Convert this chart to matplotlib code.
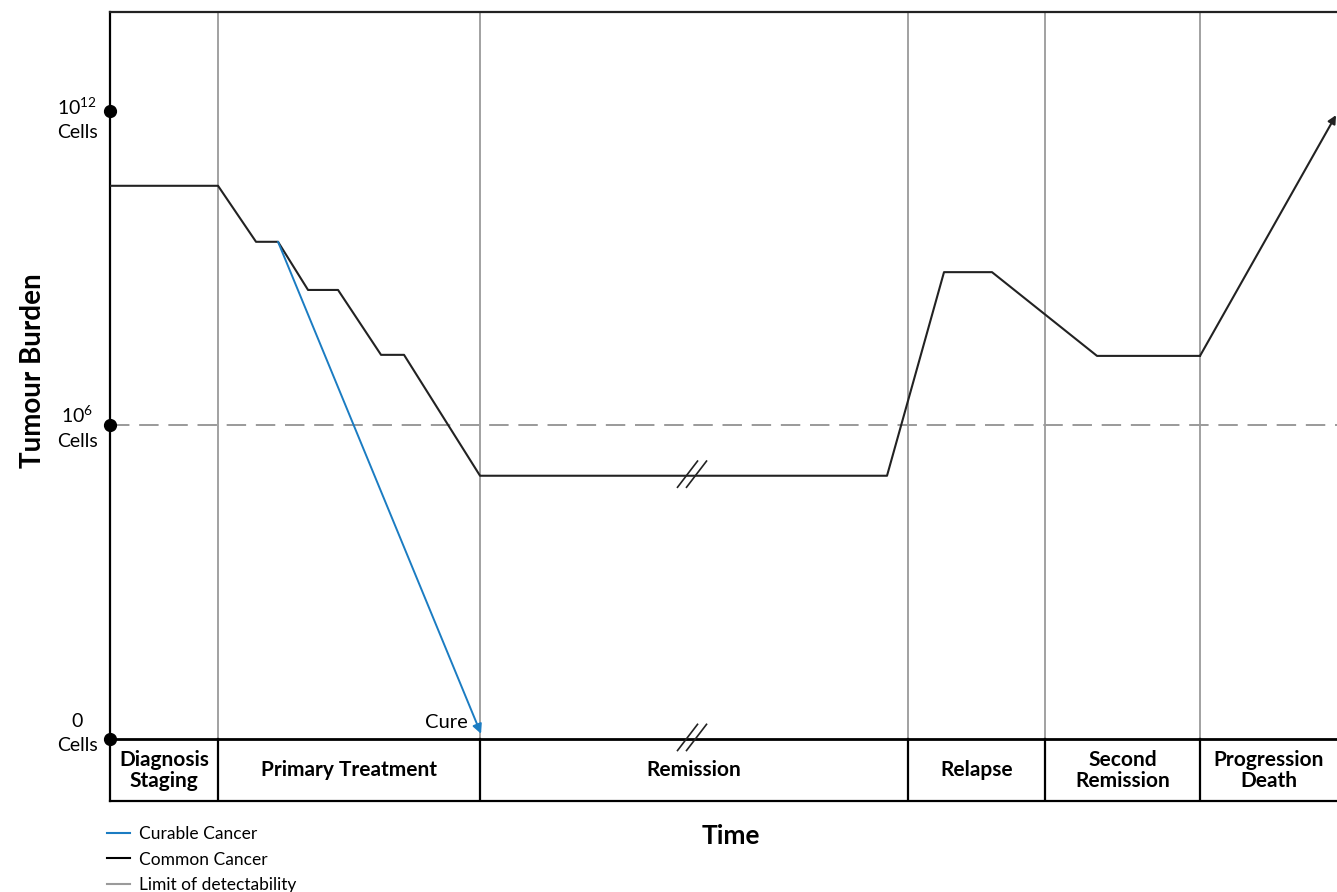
import matplotlib
matplotlib.use("Agg")
import matplotlib.pyplot as plt
from matplotlib.lines import Line2D

plt.rcParams['font.family'] = ['Lato', 'DejaVu Sans']
plt.rcParams['mathtext.fontset'] = 'custom'
plt.rcParams['mathtext.rm'] = 'Lato'
plt.rcParams['mathtext.it'] = 'Lato'
plt.rcParams['mathtext.bf'] = 'Lato:bold'

# ---- data (time in arbitrary units, burden in log10 cells) ----
phase_names = ["Diagnosis\nStaging", "Primary Treatment", "Remission",
               "Relapse", "Second\nRemission", "Progression\nDeath"]
phase_edges = [0, 10.8, 37.0, 79.8, 93.5, 109.0, 122.7]

common_t = [0, 10.8, 14.6, 16.8, 19.8, 22.8, 27.1, 29.4, 37.0,
            77.7, 83.4, 88.2, 98.7, 109.0, 122.6]
common_y = [10.57, 10.57, 9.50, 9.50, 8.58, 8.58, 7.34, 7.34, 5.03,
            5.03, 8.92, 8.92, 7.32, 7.32, 11.92]

curable_t = [16.8, 37.1]
curable_y = [9.50, 0.10]

tick_vals = [0, 6, 12]
tick_labels = ["0\nCells", "10$^{6}$\nCells", "10$^{12}$\nCells"]
detect_limit = 6
break_t = 58.2

legend_labels = ["Curable Cancer", "Common Cancer", "Limit of detectability"]

BLUE = "#1b7cc2"
GREY = "#9a9a9a"

fig = plt.figure(figsize=(13.37, 8.92), dpi=100)
ax = fig.add_axes([0.0823, 0.102, 0.9177, 0.8845])
ax.set_xlim(phase_edges[0], phase_edges[-1])
ymin, ymax = -1.185, 13.89
ax.set_ylim(ymin, ymax)

ax.spines["right"].set_visible(False)
ax.spines["left"].set_linewidth(1.6)
ax.spines["top"].set_linewidth(1.6)
ax.spines["top"].set_color("#222222")
ax.spines["bottom"].set_linewidth(1.6)
ax.set_xticks([])
ax.set_yticks([])

# phase separators
for e in phase_edges[1:-1]:
    ax.plot([e, e], [0, ymax], color=GREY, lw=1.3, zorder=1)
    ax.plot([e, e], [ymin, 0], color="black", lw=1.6, zorder=2)

# x axis (time) line
ax.axhline(0, color="black", lw=2.0, zorder=3)

# detectability limit
ax.plot([phase_edges[0], phase_edges[-1]], [detect_limit, detect_limit],
        color=GREY, lw=1.4, dashes=(10, 5), zorder=1)

# common cancer
ax.plot(common_t[:-1], common_y[:-1], color="#222222", lw=1.5, zorder=4)
ax.annotate("", xy=(common_t[-1], common_y[-1]), xytext=(common_t[-2], common_y[-2]),
            arrowprops=dict(arrowstyle="-|>", color="#222222", lw=1.5,
                            mutation_scale=12, shrinkA=0, shrinkB=0), zorder=4)

# curable cancer
ax.annotate("", xy=(curable_t[1], curable_y[1]), xytext=(curable_t[0], curable_y[0]),
            arrowprops=dict(arrowstyle="-|>", color=BLUE, lw=1.4,
                            mutation_scale=14, shrinkA=0, shrinkB=0), zorder=5)
ax.text(curable_t[1] - 1.3, 0.32, "Cure", ha="right", va="center", fontsize=14.5)

# y-axis dots & labels
ax.plot([0] * len(tick_vals), tick_vals, "o", color="black", ms=8.5, clip_on=False, zorder=6)
label_shift = {0: 0.1, 6: -0.05, 12: -0.15}
for v, lab in zip(tick_vals, tick_labels):
    ax.text(-3.3, v + label_shift[v], lab, ha="center", va="center", fontsize=14,
            linespacing=1.5, multialignment="center", clip_on=False)

# break marks
for y in [common_y[8], 0]:
    for dx in (-0.45, 0.45):
        ax.plot([break_t + dx - 1.0, break_t + dx + 1.0], [y - 0.22, y + 0.28],
                color="#222222", lw=1.2, zorder=7)

# phase labels
for i, name in enumerate(phase_names):
    c = (phase_edges[i] + phase_edges[i + 1]) / 2
    ax.text(c, -0.6, name, ha="center", va="center", fontsize=15,
            fontweight="bold", linespacing=1.05)

ax.set_ylabel("Tumour Burden", fontsize=20, fontweight="bold")
ax.yaxis.set_label_coords(-0.052, 0.546)
fig.text(0.5465, 0.063, "Time", ha="center", va="center", fontsize=19, fontweight="bold")

handles = [Line2D([], [], color=BLUE, lw=1.5),
           Line2D([], [], color="black", lw=1.5),
           Line2D([], [], color=GREY, lw=1.5)]
fig.legend(handles, legend_labels, loc="upper left", bbox_to_anchor=(0.08, 0.074),
           frameon=False, fontsize=12.5, handlelength=1.3, handletextpad=0.55,
           labelspacing=0.55, borderpad=0, borderaxespad=0)

fig.savefig("out.png", dpi=100)
